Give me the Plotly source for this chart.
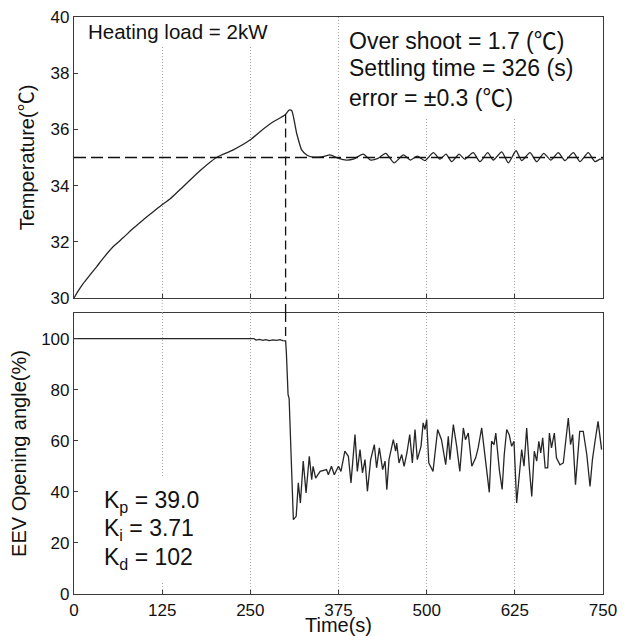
import plotly.graph_objects as go

# ---------------- data ----------------
time_temp = [0, 6, 13.2, 22.7, 32, 41.6, 55.7, 70, 84, 98, 112.4, 124.3, 136, 155, 178.6, 202,
             225.8, 249.5, 263.7, 282.6, 299, 305, 308.6, 315.7, 322.8, 330, 337, 353, 363,
             375, 386.6, 396, 410, 420.6, 431, 442, 453.7, 467, 477, 486.7, 497.6, 509.5,
             519, 527.4, 535.5, 546, 554, 566, 575.6, 586.5, 594.5, 606.4, 615.8, 626.7,
             634.7, 646.5, 656, 666, 676, 686.6, 696, 708, 717.4, 729, 738.7, 745.7, 750]
temperature = [30.0, 30.25, 30.52, 30.82, 31.11, 31.42, 31.83, 32.15, 32.48, 32.78, 33.07, 33.31,
               33.52, 33.97, 34.53, 35.0, 35.27, 35.62, 35.92, 36.27, 36.51, 36.69, 36.67, 35.86,
               35.27, 35.09, 35.02, 35.03, 35.09, 34.97, 34.91, 34.94, 35.12, 34.91, 34.97, 35.15,
               34.81, 35.09, 34.91, 35.05, 34.89, 35.17, 34.94, 35.12, 34.85, 35.12, 34.94,
               35.17, 34.85, 35.17, 34.91, 35.2, 34.81, 35.24, 34.89, 35.17, 34.85, 35.15,
               34.91, 35.17, 34.89, 35.17, 34.85, 35.17, 34.85, 34.94, 34.95]

time_eev = [0, 255, 258, 263, 268, 272, 277, 282, 287, 292, 296, 300, 301, 303.5, 305, 311,
            315, 318, 321, 325, 329, 333.6, 337, 339, 342.6, 349, 358, 360.6, 365, 369, 375,
            378.5, 384, 389, 392.7, 398.4, 401.7, 405.5, 409, 412.6, 416, 420.6, 425.8, 429,
            432.9, 437.6, 441, 443.5, 446.6, 452.7, 456, 457.5, 460.8, 464.6, 468, 472, 476,
            479.7, 483.5, 486.7, 492, 495, 497.6, 500, 503, 509, 515.6, 521, 527, 530.7, 533,
            537.8, 542.6, 547, 552, 555, 559, 564, 569.5, 573, 578, 582.7, 588.8, 592, 595.5,
            598, 603, 607, 610, 613.5, 617, 620.5, 623.8, 627.6, 634.7, 638, 641.8, 645.5,
            649, 652.6, 656, 659, 661.7, 664.5, 668, 671.6, 674, 677, 681, 684, 689, 693.7,
            700.8, 704, 707, 711, 717, 722, 727, 731.6, 735, 738.7, 743, 748]
eev_opening = [100, 100, 99.4, 99.7, 99.3, 99.6, 99.2, 99.5, 99.3, 99.6, 99.2, 99.1, 95, 78,
               76.5, 29.1, 30.4, 43.5, 35.6, 52, 39.6, 53.9, 44.8, 50, 45.4, 48, 48.7, 46.7,
               50, 46.7, 50, 48, 55.9, 53.9, 43.5, 62.4, 48, 56.5, 47.4, 52.6, 40.2, 52.6,
               58.5, 49.4, 57.2, 48.7, 52, 40.8, 52.6, 60.4, 55.9, 59.1, 51.3, 54.6, 50, 55.2,
               62.4, 51.3, 64.4, 52.6, 57.8, 67, 64.4, 68.3, 51.3, 48, 64.4, 60.4, 50.6, 61.7,
               52.6, 66.3, 57.8, 48, 65, 60.4, 63, 50, 53.3, 57.2, 65, 53.3, 39.8, 59.8, 58.5,
               63, 48.7, 40.9, 54.6, 64.4, 62.4, 57.8, 59.8, 35.6, 56.5, 50, 65, 49.4, 38.2,
               55.9, 52, 59.8, 55.2, 61.1, 49.4, 49.4, 63, 57.2, 63, 53.3, 50.6, 51.3, 68.9,
               58.5, 62.4, 42.8, 63.7, 63.7, 54.6, 42.1, 52.6, 59.8, 67.6, 56.5]

setpoint = 35.0
marker_time = 300
temp_at_marker = 36.53
eev_at_marker = 99.0

x_ticks = [0, 125, 250, 375, 500, 625, 750]
temp_ticks = [30, 32, 34, 36, 38, 40]
eev_ticks = [0, 20, 40, 60, 80, 100]

# ---------------- styling ----------------
FONT = "Liberation Sans, Arial, Helvetica, sans-serif"
CJK = "Noto Sans CJK SC"
DEG = '<span style="font-family:' + CJK + '">℃</span>'
CURVE = "#262626"
AXC = "#3a3a3a"
GRID = "#a8a8a8"
GRID_DASH = "1px,2px"
TOP_DOM = [0.513, 1.0]
BOT_DOM = [0.0, 0.487]

fig = go.Figure()
fig.add_trace(go.Scatter(x=time_temp, y=temperature, xaxis="x", yaxis="y", mode="lines",
                         line=dict(color=CURVE, width=1.3, shape="spline", smoothing=0.6),
                         showlegend=False))
fig.add_trace(go.Scatter(x=[0, 750], y=[setpoint, setpoint], xaxis="x", yaxis="y", mode="lines",
                         line=dict(color="#111", width=1.7, dash="12px,5px"), showlegend=False))
fig.add_trace(go.Scatter(x=[marker_time, marker_time], y=[temp_at_marker, 30], xaxis="x", yaxis="y",
                         mode="lines", line=dict(color="#111", width=1.3, dash="9px,5px"),
                         showlegend=False))
fig.add_trace(go.Scatter(x=time_eev, y=eev_opening, xaxis="x2", yaxis="y2", mode="lines",
                         line=dict(color=CURVE, width=1.3), showlegend=False))
fig.add_trace(go.Scatter(x=[marker_time, marker_time], y=[110, eev_at_marker], xaxis="x2", yaxis="y2",
                         mode="lines", line=dict(color="#111", width=1.3, dash="9px,5px"),
                         showlegend=False))

axis_common = dict(showline=True, mirror=True, linecolor=AXC, linewidth=1.2, ticks="inside",
                   ticklen=4, tickcolor=AXC, zeroline=False, automargin=False,
                   ticklabeloverflow="allow",
                   tickfont=dict(family=FONT, size=17, color="#111"))
title_font = dict(family=FONT, size=20, color="#111")

# the page body has an 8px margin, so the figure is 8px smaller than the window
fig.update_layout(
    width=621, height=628,
    margin=dict(l=66, r=26, t=9, b=42),
    paper_bgcolor="white", plot_bgcolor="white",
    xaxis=dict(domain=[0, 1], anchor="y", range=[0, 750], tickvals=x_ticks, showticklabels=False,
               showgrid=True, gridcolor=GRID, griddash=GRID_DASH, gridwidth=1, **axis_common),
    yaxis=dict(domain=TOP_DOM, anchor="x", range=[30, 40], tickvals=temp_ticks, showgrid=False,
               title=dict(text="Temperature(" + DEG + ")", font=title_font, standoff=10),
               **axis_common),
    xaxis2=dict(domain=[0, 1], anchor="y2", range=[0, 750], tickvals=x_ticks, matches="x",
                showgrid=True, gridcolor=GRID, griddash=GRID_DASH, gridwidth=1,
                title=dict(text="Time(s)", font=title_font, standoff=0), **axis_common),
    yaxis2=dict(domain=BOT_DOM, anchor="x2", range=[0, 110], tickvals=eev_ticks, showgrid=False,
                title=dict(text="EEV Opening angle(%)", font=title_font, standoff=10),
                **axis_common),
)

# white boxes behind the text (cover gridlines, stay under the curves)
fig.add_shape(type="rect", xref="x", yref="y", x0=0, x1=275, y0=38.95, y1=40,
              fillcolor="white", line=dict(width=0), layer="between")
fig.add_shape(type="rect", xref="x", yref="y", x0=378, x1=750, y0=36.4, y1=40,
              fillcolor="white", line=dict(width=0), layer="between")
fig.add_shape(type="rect", xref="x2", yref="y2", x0=30, x1=240, y0=4.4, y1=45.4,
              fillcolor="white", line=dict(width=0), layer="between")

# gridlines and dashed marker continuing through the gap between the panels
for xv in x_ticks[1:-1]:
    fig.add_shape(type="line", xref="x", yref="paper", x0=xv, x1=xv, y0=BOT_DOM[1], y1=TOP_DOM[0],
                  line=dict(color=GRID, width=1, dash=GRID_DASH))
fig.add_shape(type="line", xref="x", yref="paper", x0=marker_time, x1=marker_time,
              y0=BOT_DOM[1], y1=TOP_DOM[0], line=dict(color="#111", width=1.3, dash="9px,5px"))

ann_font = dict(family=FONT, size=23, color="#111")
fig.add_annotation(text="Heating load = 2kW", xref="x domain", yref="y domain", x=0.0227, y=0.948,
                   xanchor="left", yanchor="middle", showarrow=False,
                   font=dict(family=FONT, size=20.5, color="#111"))
for txt, yy in [("Over shoot = 1.7 (" + DEG + ")", 0.92), ("Settling time = 326 (s)", 0.819),
                ("error = ±0.3 (" + DEG + ")", 0.718)]:
    fig.add_annotation(text=txt, xref="x domain", yref="y domain", x=0.517, y=yy,
                       xanchor="left", yanchor="middle", showarrow=False, font=ann_font)
for txt, yy in [("K<sub>p</sub> = 39.0", 0.3285), ("K<sub>i</sub> = 3.71", 0.2278),
                ("K<sub>d</sub> = 102", 0.127)]:
    fig.add_annotation(text=txt, xref="x2 domain", yref="y2 domain", x=0.0523, y=yy,
                       xanchor="left", yanchor="middle", showarrow=False, font=ann_font)

fig.write_html("out.html")
